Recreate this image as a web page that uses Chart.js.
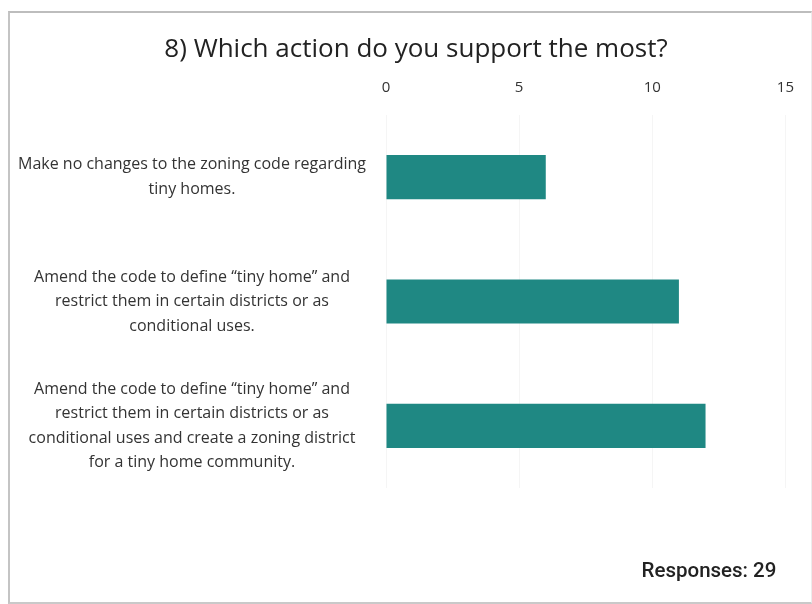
<!DOCTYPE html>
<html>
<head>
<meta charset="utf-8">
<script src="https://cdn.jsdelivr.net/npm/chart.js@4.4.1/dist/chart.umd.min.js"></script>
<style>
  html, body { margin: 0; padding: 0; background: #fff; }
  #wrap { position: relative; width: 812px; height: 604px; }
  #frame {
    position: absolute; left: 8px; top: 11px; width: 801px; height: 589px;
    border-left: 2px solid #c4c4c4; border-top: 2px solid #bdbdbd;
    border-bottom: 2px solid #c9c9c9; border-right: 1px solid #ececec;
  }
  canvas { position: absolute; left: 0; top: 0; }
</style>
</head>
<body>
<div id="wrap">
  <div id="frame"></div>
  <canvas id="survey" width="812" height="604"></canvas>
</div>
<script>
// answer options, one array of lines per option
var options = [
    ['Make no changes to the zoning code regarding', 'tiny homes.'],
    ['Amend the code to define \u201ctiny home\u201d and', 'restrict them in certain districts or as', 'conditional uses.'],
    ['Amend the code to define \u201ctiny home\u201d and', 'restrict them in certain districts or as',
        'conditional uses and create a zoning district', 'for a tiny home community.']
];
var counts = [6, 11, 12];
var axisTicks = [0, 5, 10, 15];
var question = '8) Which action do you support the most?';
var totalResponses = 29;

// question on top (centred on the card, not the canvas) and the response count bottom right
var captions = {
    id: 'captions',
    afterDraw: function (c) {
        var ctx = c.ctx;
        ctx.save();
        ctx.fillStyle = '#222';
        ctx.textBaseline = 'middle';

        ctx.font = '26px "Open Sans"';
        ctx.textAlign = 'center';
        ctx.fillText(question, c.width / 2 + 10, 50);

        ctx.font = '500 20.5px Roboto';
        ctx.textAlign = 'right';
        ctx.fillText('Responses: ' + totalResponses, c.chartArea.right - 9, 572);
        ctx.restore();
    }
};

var ctx = document.getElementById('survey').getContext('2d');

var surveyChart = new Chart(ctx, {
    type: 'bar',
    data: {
        labels: options,
        datasets: [
            {
                data: counts,
                backgroundColor: '#1f8883',
                borderWidth: 0,
                barPercentage: 0.355,
                categoryPercentage: 1
            }
        ]
    },
    plugins: [captions],
    options: {
        indexAxis: 'y',
        responsive: false,
        animation: false,
        layout: { padding: { left: 10, right: 12, top: 79, bottom: 116 } },
        plugins: {
            legend: { display: false },
            tooltip: { enabled: false }
        },
        scales: {
            x: {
                position: 'top',
                min: 0,
                max: 15,
                afterBuildTicks: function (axis) {
                    axis.ticks = axisTicks.map(function (v) { return { value: v }; });
                },
                afterFit: function (axis) { axis.height = 36; },
                grid: { color: '#f5f5f5', drawTicks: false },
                border: { display: false },
                ticks: {
                    color: '#333',
                    padding: 18,
                    font: { family: 'Open Sans', size: 15 }
                }
            },
            y: {
                grid: { display: false },
                border: { display: false },
                afterFit: function (axis) { axis.width = 376; },
                ticks: {
                    crossAlign: 'center',
                    padding: 12,
                    color: '#333',
                    font: { family: 'Open Sans', size: 16, lineHeight: 1.53 }
                }
            }
        }
    }
});
</script>
</body>
</html>
